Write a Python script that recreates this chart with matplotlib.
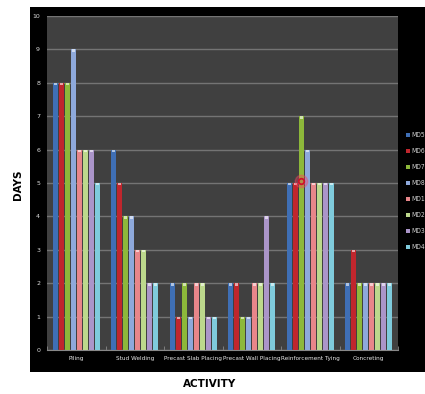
import matplotlib
matplotlib.use("Agg")
import matplotlib.pyplot as plt
import numpy as np

# activities and durations (days) per model
activities = ["Piling", "Stud Welding", "Precast Slab Placing",
              "Precast Wall Placing", "Reinforcement Tying", "Concreting"]
series_names = ["MD5", "MD6", "MD7", "MD8", "MD1", "MD2", "MD3", "MD4"]
md5 = [8, 6, 2, 2, 5, 2]
md6 = [8, 5, 1, 2, 5, 3]
md7 = [8, 4, 2, 1, 7, 2]
md8 = [9, 4, 1, 1, 6, 2]
md1 = [6, 3, 2, 2, 5, 2]
md2 = [6, 3, 2, 2, 5, 2]
md3 = [6, 2, 1, 4, 5, 2]
md4 = [5, 2, 1, 2, 5, 2]
series = [md5, md6, md7, md8, md1, md2, md3, md4]
colors = ["#3f6fb5", "#c0262d", "#8db83a", "#8ea9db",
          "#e8868a", "#bcd88c", "#ab95c9", "#7fcbdc"]

plt.rcParams['font.family'] = ['DejaVu Sans']

W, H = 425, 394
fig = plt.figure(figsize=(W / 100, H / 100), dpi=100, facecolor="white")

# black chart area behind the plot
bg = fig.add_axes([30 / W, (H - 372) / H, 1 - 30 / W, (372 - 7) / H], zorder=-1)
bg.set_facecolor("black")
bg.set_xticks([])
bg.set_yticks([])
for s in bg.spines.values():
    s.set_visible(False)

ax = fig.add_axes([47 / W, (H - 350) / H, (398 - 47) / W, (350 - 16) / H])
ax.set_facecolor("#404040")

x = np.arange(len(activities))
pitch = 0.103
width = 0.088
for i, (vals, c, name) in enumerate(zip(series, colors, series_names)):
    pos = x + (i - 3.5) * pitch
    ax.bar(pos, vals, width=width, color=c, label=name, zorder=3)
    # light cap at the top of each bar
    ax.bar(pos, [0.07] * len(vals), bottom=np.array(vals) - 0.07, width=width * 0.6,
           color="white", alpha=0.6, zorder=4)

ax.set_xlim(-0.5, len(activities) - 0.5)
ax.set_ylim(0, 10)
ax.set_yticks(range(11))
ax.yaxis.grid(True, color="#747474", linewidth=1.0, zorder=0)
ax.set_axisbelow(True)
ax.tick_params(axis="y", colors="#dddddd", labelsize=4.5, length=0, pad=5)

ax.set_xticks(x)
ax.set_xticklabels(activities, fontsize=4.6, color="#e8e8e8", fontstretch="condensed")
ax.tick_params(axis="x", length=0, pad=4)
ax.set_xticks(np.arange(len(activities) + 1) - 0.5, minor=True)
ax.tick_params(axis="x", which="minor", length=3, color="#888888", direction="in")
for s in ax.spines.values():
    s.set_visible(False)
ax.spines["bottom"].set_visible(True)
ax.spines["bottom"].set_color("#888888")

leg = ax.legend(loc="upper left", bbox_to_anchor=(1.014, 0.66), frameon=False,
                fontsize=4.8, labelcolor="#cccccc", handlelength=0.6, handleheight=0.6,
                handletextpad=0.3, labelspacing=1.5, borderaxespad=0)
for t in leg.get_texts():
    t.set_fontstretch("condensed")

# cursor highlight
ax.plot([3.85], [5.05], marker="o", markersize=9, color="#ff4060", alpha=0.35, zorder=6)
ax.plot([3.85], [5.05], marker="o", markersize=4, markerfacecolor="none",
        markeredgecolor="#d0102a", markeredgewidth=1.3, zorder=7)

fig.text(18 / W, 1 - 185 / H, "DAYS", rotation=90, ha="center", va="center",
         fontsize=7.5, fontweight="bold", color="black")
fig.text(210 / W, 1 - 384 / H, "ACTIVITY", ha="center", va="center",
         fontsize=7.5, fontweight="bold", color="black")

fig.savefig("out.png", dpi=100, facecolor="white")
